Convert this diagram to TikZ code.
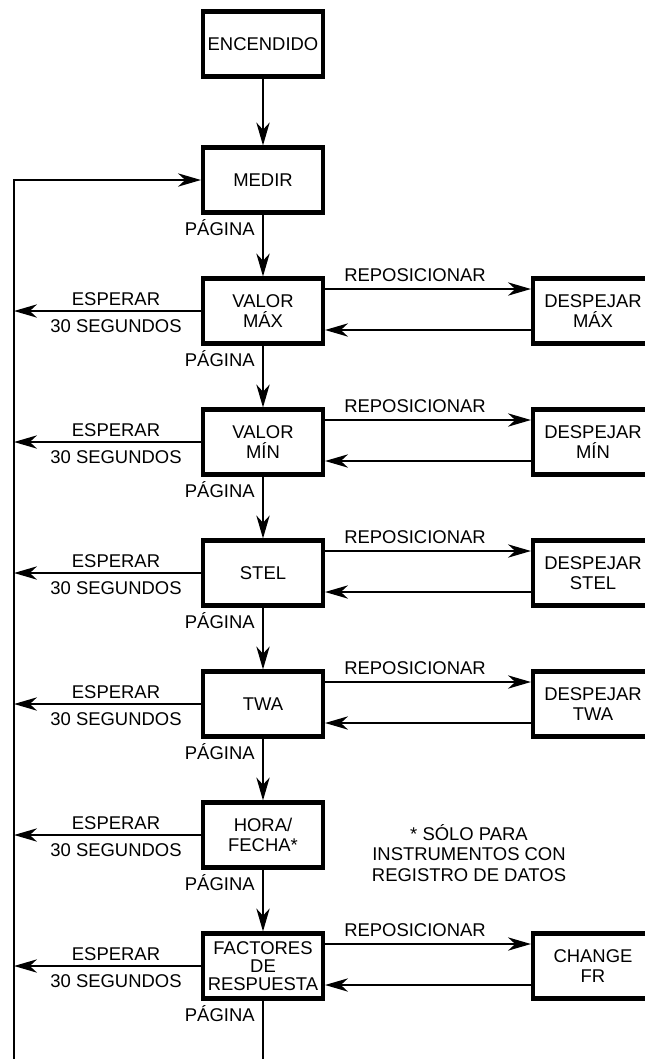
\documentclass[tikz,border=0pt]{standalone}
\usepackage{fontspec}
\setmainfont{Liberation Sans}
\usetikzlibrary{arrows.meta}
\begin{document}
\begin{tikzpicture}[x=0.02cm,y=-0.02cm,
  every node/.style={font=\fontsize{10.5pt}{11.6pt}\selectfont},
  box/.style={draw,line width=2.3pt,minimum width=2.4cm,minimum height=1.3cm,inner sep=1pt,align=center},
  arr/.style={line width=1.5pt,-{Stealth[length=13pt,width=7.5pt,inset=4pt]}},
  lbl/.style={inner sep=0pt,align=center}]
\useasboundingbox (0,0) rectangle (645,1059);
\clip (0,0) rectangle (645,1059);

% main column
\node[box] (enc) at (263,44) {ENCENDIDO};
\node[box] (medir) at (263,180) {MEDIR};
\node[box] (vmax) at (263,311) {VALOR\\MÁX};
\node[box] (vmin) at (263,442) {VALOR\\MÍN};
\node[box] (stel) at (263,573) {STEL};
\node[box] (twa) at (263,704) {TWA};
\node[box] (hora) at (263,835) {HORA/\\FECHA*};
\node[box,font=\fontsize{10.5pt}{10.4pt}\selectfont] (fr) at (263,966) {FACTORES\\DE\\RESPUESTA};

% right column
\node[box] (dmax) at (593,311) {DESPEJAR\\MÁX};
\node[box] (dmin) at (593,442) {DESPEJAR\\MÍN};
\node[box] (dstel) at (593,573) {DESPEJAR\\STEL};
\node[box] (dtwa) at (593,704) {DESPEJAR\\TWA};
\node[box] (cfr) at (593,966) {CHANGE\\FR};

\coordinate (bot) at (14,1075);

% page arrows
\draw[arr] (enc) -- (medir);
\draw[arr] (medir) -- (vmax);
\draw[arr] (vmax) -- (vmin);
\draw[arr] (vmin) -- (stel);
\draw[arr] (stel) -- (twa);
\draw[arr] (twa) -- (hora);
\draw[arr] (hora) -- (fr);
\draw[line width=1.5pt] (fr.south) -- (fr.south |- bot);
\node[lbl,anchor=east] (pag0) at (255,228) {PÁGINA};
\node[lbl,anchor=east] (pag1) at (255,359) {PÁGINA};
\node[lbl,anchor=east] (pag2) at (255,490) {PÁGINA};
\node[lbl,anchor=east] (pag3) at (255,621) {PÁGINA};
\node[lbl,anchor=east] (pag4) at (255,752) {PÁGINA};
\node[lbl,anchor=east] (pag5) at (255,883) {PÁGINA};
\node[lbl,anchor=east] (pag6) at (255,1014) {PÁGINA};

% return line
\draw[arr] (bot) |- (medir.west);

% wait 30 s
\draw[arr] (vmax.west) -- (vmax.west -| bot);
\draw[arr] (vmin.west) -- (vmin.west -| bot);
\draw[arr] (stel.west) -- (stel.west -| bot);
\draw[arr] (twa.west) -- (twa.west -| bot);
\draw[arr] (hora.west) -- (hora.west -| bot);
\draw[arr] (fr.west) -- (fr.west -| bot);
\node[lbl] (esp1) at (116,299) {ESPERAR};
\node[lbl] (seg1) at (116,326) {30 SEGUNDOS};
\node[lbl] (esp2) at (116,430) {ESPERAR};
\node[lbl] (seg2) at (116,457) {30 SEGUNDOS};
\node[lbl] (esp3) at (116,561) {ESPERAR};
\node[lbl] (seg3) at (116,588) {30 SEGUNDOS};
\node[lbl] (esp4) at (116,692) {ESPERAR};
\node[lbl] (seg4) at (116,719) {30 SEGUNDOS};
\node[lbl] (esp5) at (116,823) {ESPERAR};
\node[lbl] (seg5) at (116,850) {30 SEGUNDOS};
\node[lbl] (esp6) at (116,954) {ESPERAR};
\node[lbl] (seg6) at (116,981) {30 SEGUNDOS};

% reset
\draw[arr] ([yshift=0.44cm]vmax.east) -- ([yshift=0.44cm]dmax.west);
\draw[arr] ([yshift=-0.38cm]dmax.west) -- ([yshift=-0.38cm]vmax.east);
\draw[arr] ([yshift=0.44cm]vmin.east) -- ([yshift=0.44cm]dmin.west);
\draw[arr] ([yshift=-0.38cm]dmin.west) -- ([yshift=-0.38cm]vmin.east);
\draw[arr] ([yshift=0.44cm]stel.east) -- ([yshift=0.44cm]dstel.west);
\draw[arr] ([yshift=-0.38cm]dstel.west) -- ([yshift=-0.38cm]stel.east);
\draw[arr] ([yshift=0.44cm]twa.east) -- ([yshift=0.44cm]dtwa.west);
\draw[arr] ([yshift=-0.38cm]dtwa.west) -- ([yshift=-0.38cm]twa.east);
\draw[arr] ([yshift=0.44cm]fr.east) -- ([yshift=0.44cm]cfr.west);
\draw[arr] ([yshift=-0.38cm]cfr.west) -- ([yshift=-0.38cm]fr.east);
\node[lbl] (rep1) at (415,275) {REPOSICIONAR};
\node[lbl] (rep2) at (415,406) {REPOSICIONAR};
\node[lbl] (rep3) at (415,537) {REPOSICIONAR};
\node[lbl] (rep4) at (415,668) {REPOSICIONAR};
\node[lbl] (rep6) at (415,930) {REPOSICIONAR};

\node[lbl] (nota) at (469,853) {* SÓLO PARA\\INSTRUMENTOS CON\\REGISTRO DE DATOS};
\end{tikzpicture}
\end{document}
